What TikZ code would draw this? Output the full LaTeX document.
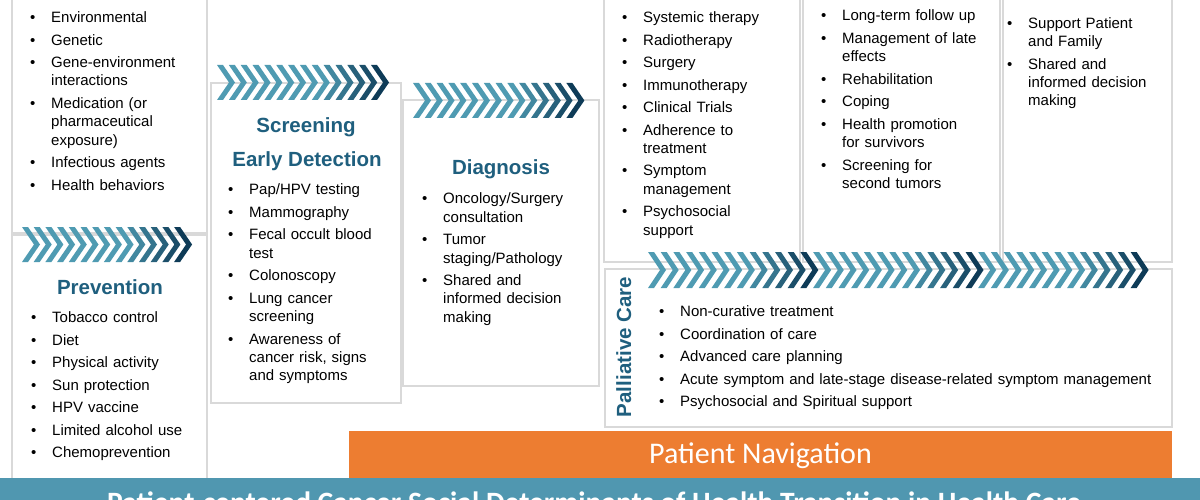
\documentclass[tikz,border=0pt]{standalone}
\usepackage{fontspec}
\setmainfont{Liberation Sans}
\newfontfamily\navfont{Carlito}
\definecolor{headblue}{HTML}{1F5F7E}
\definecolor{chevlight}{HTML}{4F9BB2}
\definecolor{chevdark}{HTML}{0E3B57}
\definecolor{panelgray}{HTML}{D9D9D9}
\definecolor{navorange}{HTML}{ED7D31}
\definecolor{barteal}{HTML}{5097B0}
\newlength\bulw \setlength\bulw{21pt}
\newcommand\bitem[1]{\noindent\hangindent=\bulw\hangafter=1\hbox to\bulw{\textbullet\hss}#1\par\vspace{4.2pt}}
\newcommand\chevband[5]{%
  \foreach \i in {1,...,#3}{%
    \pgfmathtruncatemacro\dk{\i<=#3-5 ? 0 : (\i-#3+5)*20}%
    \fill[chevdark!\dk!chevlight] ({#1+(\i-1)*#4},#2) -- ++(6,0) -- ++(12,#5/2) -- ++(-12,#5/2) -- ++(-6,0) -- ++(12,-#5/2) -- cycle;}}
\begin{document}
\begin{tikzpicture}[x=1pt,y=-1pt,
  panel/.style={draw=panelgray,line width=1.5pt,fill=white},
  head/.style={font=\fontsize{20.5}{24}\selectfont\bfseries,text=headblue,inner sep=0pt,anchor=base},
  blist/.style={font=\fontsize{15}{18.3}\selectfont,text width=#1,inner sep=0pt,anchor=base west}]
\useasboundingbox (0,0) rectangle (1200,500);
\clip (0,0) rectangle (1200,500);
\begin{scope}
    \draw[panel] (12,-5) rectangle (207,233);
    \draw[panel] (12,235) rectangle (207,520);
    \draw[panel] (211,83) rectangle (401,403);
    \draw[panel] (403,100) rectangle (599,386);
    \draw[panel] (604,-5) rectangle (800,262);
    \draw[panel] (803,-5) rectangle (1000,262);
    \draw[panel] (1003,-5) rectangle (1172,262);
    \draw[panel] (605,269) rectangle (1172,427);
\end{scope}
\begin{scope}
    \chevband{22}{227}{14}{11.7}{35}
    \chevband{217}{65}{14}{11.85}{35}
    \chevband{413}{83}{14}{11.8}{35}
    \chevband{648}{252}{13}{12.7}{36}
    \chevband{813.1}{252}{13}{12.7}{36}
    \chevband{978.2}{252}{13}{12.7}{36}
\end{scope}
    \node[blist=170pt] (etiolist) at (30,22.7) {\bitem{Environmental}\bitem{Genetic}\bitem{Gene-environment\newline interactions}\bitem{Medication (or\newline pharmaceutical\newline exposure)}\bitem{Infectious agents}\bitem{Health behaviors}};
    \node[head] (prevhead) at (110,294) {Prevention};
    \node[blist=170pt] (prevlist) at (31,322.7) {\bitem{Tobacco control}\bitem{Diet}\bitem{Physical activity}\bitem{Sun protection}\bitem{HPV vaccine}\bitem{Limited alcohol use}\bitem{Chemoprevention}};
    \node[head] (screenhead) at (306,133) {Screening};
    \node[head] (earlyhead) at (307,167) {Early Detection};
    \node[blist=170pt] (screenlist) at (228,195) {\bitem{Pap/HPV testing}\bitem{Mammography}\bitem{Fecal occult blood\newline test}\bitem{Colonoscopy}\bitem{Lung cancer\newline screening}\bitem{Awareness of\newline cancer risk, signs\newline and symptoms}};
    \node[head] (diaghead) at (501,175) {Diagnosis};
    \node[blist=170pt] (diaglist) at (422,204) {\bitem{Oncology/Surgery\newline consultation}\bitem{Tumor\newline staging/Pathology}\bitem{Shared and\newline informed decision\newline making}};
    \node[blist=170pt] (treatlist) at (622,22.7) {\bitem{Systemic therapy}\bitem{Radiotherapy}\bitem{Surgery}\bitem{Immunotherapy}\bitem{Clinical Trials}\bitem{Adherence to\newline treatment}\bitem{Symptom\newline management}\bitem{Psychosocial\newline support}};
    \node[blist=170pt] (survlist) at (821,21) {\bitem{Long-term follow up}\bitem{Management of late\newline effects}\bitem{Rehabilitation}\bitem{Coping}\bitem{Health promotion\newline for survivors}\bitem{Screening for\newline second tumors}};
    \node[blist=160pt] (eollist) at (1007,28.3) {\bitem{Support Patient\newline and Family}\bitem{Shared and\newline informed decision\newline making}};
    \node[head,rotate=90] (pallhead) at (631,347) {Palliative Care};
    \node[blist=500pt] (palllist) at (659,316.7) {\bitem{Non-curative treatment}\bitem{Coordination of care}\bitem{Advanced care planning}\bitem{Acute symptom and late-stage disease-related symptom management}\bitem{Psychosocial and Spiritual support}};
    \fill[navorange] (349,431) rectangle (1172,478);
    \node[anchor=base,text=white,inner sep=0pt,font=\navfont\fontsize{30}{36}\selectfont] (navlabel) at (760.5,463.5) {Patient Navigation};
    \fill[barteal] (0,478) rectangle (1200,530);
    \node[anchor=base west,text=white,inner sep=0pt,font=\navfont\bfseries\fontsize{29.5}{35}\selectfont] (barlabel) at (107,512.5) {Patient-centered Cancer Social Determinants of Health Transition in Health Care};
\end{tikzpicture}
\end{document}
